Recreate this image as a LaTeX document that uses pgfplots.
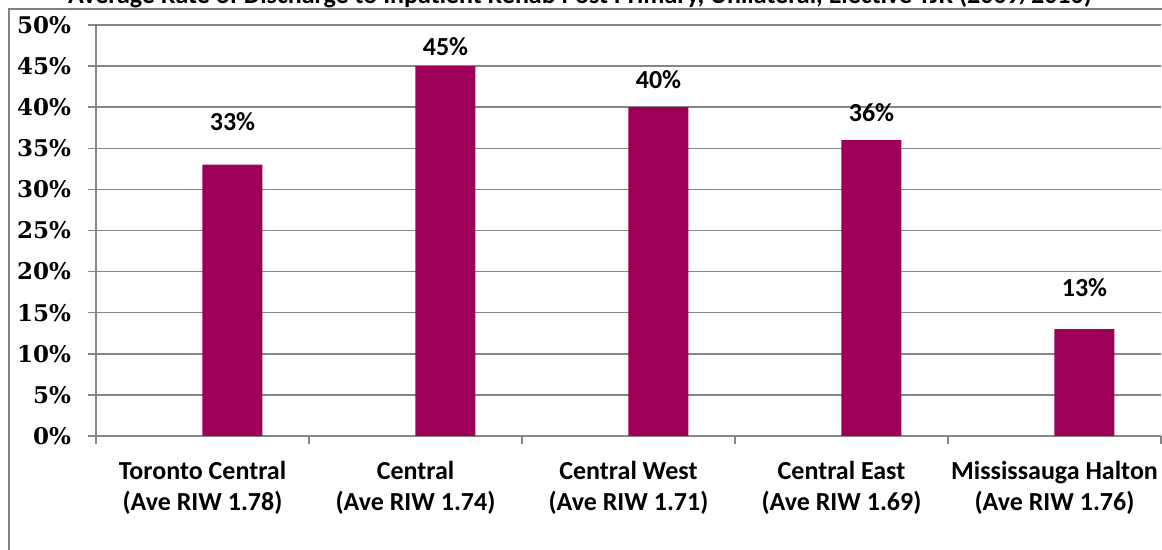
\documentclass[border=0pt]{standalone}
\usepackage{fontspec}
\setmainfont{Carlito}
\newfontfamily\serifnum{DejaVu Serif}
\usepackage{pgfplots}
\usepackage{pgfplotstable}
\pgfplotsset{compat=1.18}
\definecolor{barcol}{RGB}{158,0,88}
\definecolor{gridcol}{RGB}{134,134,134}
\definecolor{framecol}{RGB}{128,128,128}

\pgfplotstableread{
x y ly
0 33 38.2
1 45 47.4
2 40 43.3
3 36 39.3
4 13 18.0
}\data

\begin{document}
\begin{tikzpicture}
\path[use as bounding box] (0,0) rectangle (581pt,275pt);
\draw[framecol, line width=1pt] (4.5pt,-20pt) -- (4.5pt,270.25pt) -- (600pt,270.25pt);
\node[anchor=base, font=\fontsize{13}{15}\selectfont\bfseries] at (290pt,273pt)
  {Average Rate of Discharge to Inpatient Rehab Post Primary, Unilateral, Elective TJR (2009/2010)};
\begin{axis}[
  at={(48pt,57pt)}, anchor=south west,
  scale only axis, width=532.5pt, height=205.5pt,
  xmin=-0.5, xmax=4.5, ymin=0, ymax=50,
  axis x line*=bottom, axis y line*=left,
  axis line style={gridcol, line width=0.75pt},
  tick align=outside,
  tick style={gridcol, line width=0.75pt},
  major tick length=4pt, minor tick length=4pt,
  xtick={0,1,2,3,4},
  xticklabels={{Toronto Central\\(Ave RIW 1.78)},{Central\\(Ave RIW 1.74)},{Central West\\(Ave RIW 1.71)},{Central East\\(Ave RIW 1.69)},{Mississauga Halton\\(Ave RIW 1.76)}},
  xticklabel style={align=center, font=\fontsize{13}{15.5}\selectfont\bfseries, yshift=-5pt},
  major x tick style={draw=none},
  minor xtick={-0.5,0.5,1.5,2.5,3.5,4.5},
  ytick={0,5,...,50},
  yticklabel={\pgfmathprintnumber{\tick}\%},
  yticklabel style={font=\serifnum\bfseries\fontsize{11.5}{13}\selectfont, xshift=-5pt},
  /pgf/number format/assume math mode=true,
  ymajorgrids, grid style={gridcol, line width=0.75pt},
  clip=false,
]
\addplot[ybar, bar width=30pt, bar shift=15pt, fill=barcol, draw=none] table[x=x, y=y]{\data};
\addplot[draw=none, mark=none, point meta=\thisrow{y},
  nodes near coords={\pgfmathprintnumber{\pgfplotspointmeta}\%},
  every node near coord/.append style={font=\fontsize{13}{15}\selectfont\bfseries, xshift=15pt, anchor=center, text=black}]
  table[x=x, y=ly]{\data};
\end{axis}
\end{tikzpicture}
\end{document}
